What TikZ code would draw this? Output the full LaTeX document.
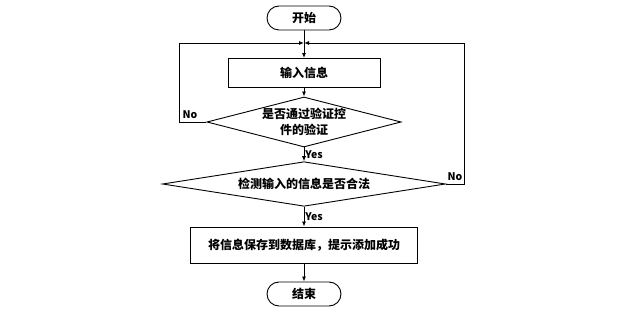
\documentclass[tikz,border=0pt]{standalone}
\usepackage{fontspec}
\setmainfont{Noto Sans CJK SC}
\usetikzlibrary{arrows.meta,calc,positioning,shapes.geometric}

\begin{document}
\begin{tikzpicture}[x=1pt,y=-1pt,line width=0.9pt,
  every node/.style={font=\fontsize{12}{16}\selectfont\bfseries},
  term/.style={draw,rounded corners=12pt,minimum width=74pt,minimum height=24pt,inner sep=0pt},
  proc/.style={draw,minimum height=29pt,inner sep=0pt},
  decide/.style={draw,diamond,aspect=4,inner sep=0pt,align=center},
  arr/.style={-{Latex[length=5pt,width=4pt]}},
  lab/.style={font=\fontsize{10.5}{12}\selectfont\bfseries,inner sep=1pt}]
  \useasboundingbox (0,0) rectangle (627,315);
  \node[term] (start) at (304,18) {开始};
  \coordinate (join) at (304,43);
  \node[proc,minimum width=152pt] (input) at (304,73) {输入信息};
  \node[decide,minimum width=190pt,minimum height=50pt] (check1) at (304,122) {是否通过验证控\\件的验证};
  \node[decide,minimum width=283pt,minimum height=40pt] (check2) at (304,184) {检测输入的信息是否合法};
  \node[proc,minimum width=227pt,minimum height=36pt] (save) at (304,245) {将信息保存到数据库，提示添加成功};
  \node[term] (stop) at (304,294) {结束};
  % main line
  \draw (start) -- (join);
  \draw[arr] (join) -- (input);
  \draw[arr] (input) -- (check1);
  \draw[arr] (check1) -- node[lab,right] {Yes} (check2);
  \draw[arr] (check2) -- node[lab,right] {Yes} (save);
  \draw[arr] (save) -- (stop);
  % loops back
  \coordinate (lcorner) at (179,43);
  \coordinate (rcorner) at (464,43);
  \draw[arr] (check1.west) -- (check1.west -| lcorner) -- (lcorner) -- (join);
  \draw[arr] (check2.east) -- (check2.east -| rcorner) -- (rcorner) -- (join);
  \node[lab,anchor=south] (no1) at (190,120) {No};
  \node[lab,anchor=south] (no2) at (455,182) {No};
\end{tikzpicture}
\end{document}
